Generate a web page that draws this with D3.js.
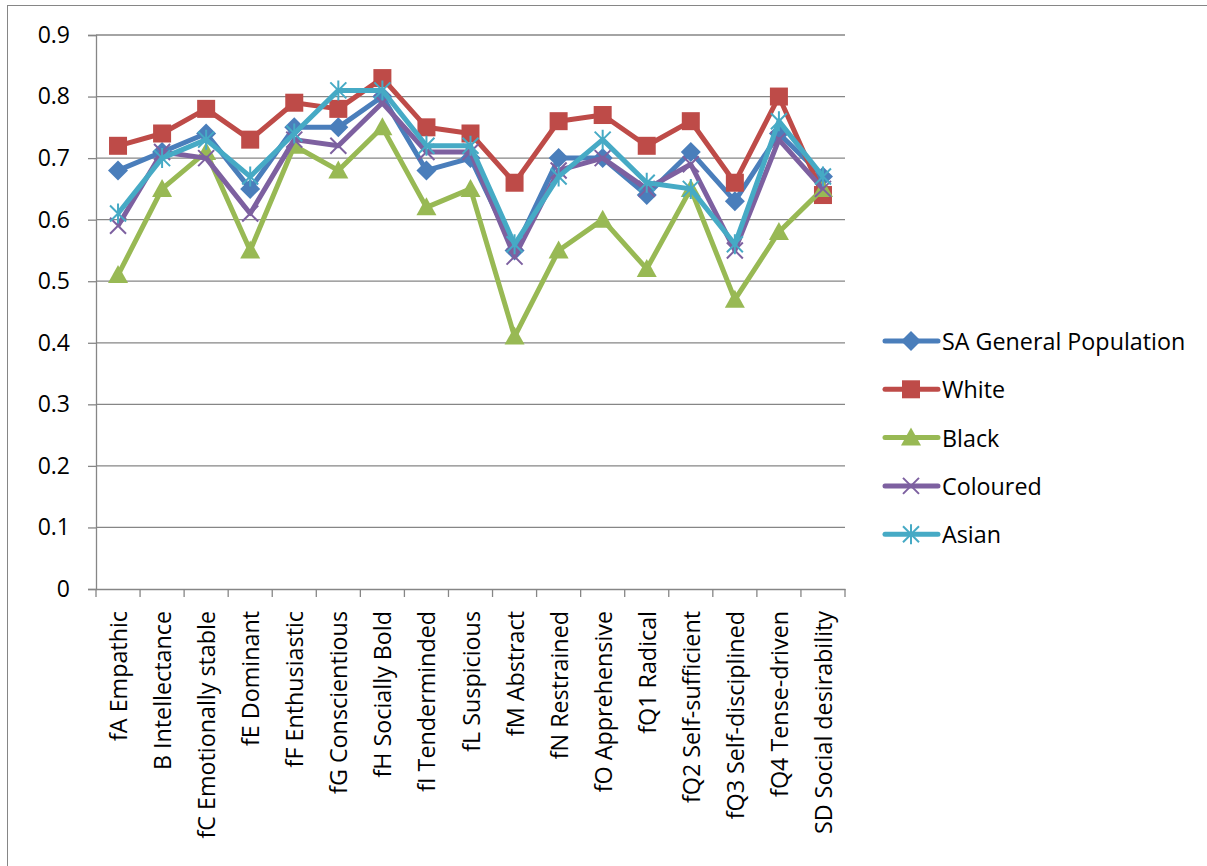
<!DOCTYPE html>
<html>
<head>
<meta charset="utf-8">
<script src="https://cdn.jsdelivr.net/npm/d3@7"></script>
<style>
  body { margin: 0; background: #fff; }
  text { font-family: "Open Sans", "Noto Sans", sans-serif; fill: #000; }
</style>
</head>
<body>
<svg id="chart" width="1207" height="866"></svg>
<script>
const categories = ["fA Empathic", "B Intellectance", "fC Emotionally stable", "fE Dominant",
  "fF Enthusiastic", "fG Conscientious", "fH Socially Bold", "fI Tenderminded", "fL Suspicious",
  "fM Abstract", "fN Restrained", "fO Apprehensive", "fQ1 Radical", "fQ2 Self-sufficient",
  "fQ3 Self-disciplined", "fQ4 Tense-driven", "SD Social desirability"];

const saGeneral = [0.68, 0.71, 0.74, 0.65, 0.75, 0.75, 0.80, 0.68, 0.70, 0.55, 0.70, 0.70, 0.64, 0.71, 0.63, 0.74, 0.67];
const white     = [0.72, 0.74, 0.78, 0.73, 0.79, 0.78, 0.83, 0.75, 0.74, 0.66, 0.76, 0.77, 0.72, 0.76, 0.66, 0.80, 0.64];
const black     = [0.51, 0.65, 0.71, 0.55, 0.72, 0.68, 0.75, 0.62, 0.65, 0.41, 0.55, 0.60, 0.52, 0.65, 0.47, 0.58, 0.65];
const coloured  = [0.59, 0.71, 0.70, 0.61, 0.73, 0.72, 0.79, 0.71, 0.71, 0.54, 0.68, 0.70, 0.65, 0.69, 0.55, 0.73, 0.65];
const asian     = [0.61, 0.70, 0.73, 0.67, 0.74, 0.81, 0.81, 0.72, 0.72, 0.56, 0.67, 0.73, 0.66, 0.65, 0.56, 0.76, 0.67];

const yTicks = [0, 0.1, 0.2, 0.3, 0.4, 0.5, 0.6, 0.7, 0.8, 0.9];

const series = [
  { name: "SA General Population", values: saGeneral, color: "#4A7EBB", marker: "diamond" },
  { name: "White", values: white, color: "#BE4B48", marker: "square" },
  { name: "Black", values: black, color: "#98B954", marker: "triangle" },
  { name: "Coloured", values: coloured, color: "#7D60A0", marker: "x" },
  { name: "Asian", values: asian, color: "#46AAC5", marker: "star" }
];

const svg = d3.select("#chart");

// outer chart frame
svg.append("rect")
  .attr("x", 7.5).attr("y", 5.5)
  .attr("width", 1210).attr("height", 880)
  .attr("fill", "none").attr("stroke", "#868686").attr("stroke-width", 1);

const plot = { left: 96, right: 845, top: 35, bottom: 589 };

const x = d3.scaleBand().domain(categories).range([plot.left, plot.right]);
const y = d3.scaleLinear().domain([0, 0.9]).range([plot.bottom, plot.top]);

// gridlines
svg.append("g")
  .selectAll("line")
  .data(yTicks.slice(1))
  .join("line")
  .attr("x1", plot.left).attr("x2", plot.right)
  .attr("y1", (d) => y(d)).attr("y2", (d) => y(d))
  .attr("stroke", "#868686").attr("stroke-width", 1.3);

// y axis
const yAxis = svg.append("g")
  .attr("transform", `translate(${plot.left},0)`)
  .call(d3.axisLeft(y).tickValues(yTicks).tickSize(8).tickPadding(18).tickFormat((d) => d === 0 ? "0" : d3.format(".1f")(d)));
yAxis.select(".domain").attr("stroke", "#868686").attr("stroke-width", 1.3);
yAxis.selectAll(".tick line").attr("stroke", "#868686").attr("stroke-width", 1.3);
yAxis.selectAll(".tick text").attr("font-size", 23).attr("fill", "#000");

// x axis
const xAxis = svg.append("g")
  .attr("transform", `translate(0,${plot.bottom})`)
  .call(d3.axisBottom(x).tickSize(0).tickPadding(0));
xAxis.select(".domain").attr("stroke", "#868686").attr("stroke-width", 1.3);
xAxis.selectAll(".tick text")
  .attr("font-size", 23.3)
  .attr("fill", "#000")
  .attr("text-anchor", "end")
  .attr("dy", null)
  .attr("transform", "translate(0,22) rotate(-90)")
  .attr("dominant-baseline", "central");

// x tick marks at band boundaries
svg.append("g")
  .selectAll("line")
  .data(categories.map((c) => x(c)).concat([plot.right]))
  .join("line")
  .attr("x1", (d) => d).attr("x2", (d) => d)
  .attr("y1", plot.bottom).attr("y2", plot.bottom + 8)
  .attr("stroke", "#868686").attr("stroke-width", 1.3);

const cx = (i) => x(categories[i]) + x.bandwidth() / 2;

function drawMarker(g, type, color) {
  if (type === "diamond") {
    g.append("path").attr("d", "M0,-10L10,0L0,10L-10,0Z").attr("fill", color);
  } else if (type === "square") {
    g.append("rect").attr("x", -9).attr("y", -9).attr("width", 18).attr("height", 18).attr("fill", color);
  } else if (type === "triangle") {
    g.append("path").attr("d", "M0,-10L10,8L-10,8Z").attr("fill", color);
  } else if (type === "x") {
    g.append("path").attr("d", "M-8,-8L8,8M-8,8L8,-8").attr("stroke", color).attr("stroke-width", 2);
  } else if (type === "star") {
    g.append("path").attr("d", "M-8,-8L8,8M-8,8L8,-8M0,-10L0,10").attr("stroke", color).attr("stroke-width", 2);
  }
}

const line = d3.line().x((d, i) => cx(i)).y((d) => y(d));

series.forEach((s) => {
  const g = svg.append("g");
  g.append("path")
    .datum(s.values)
    .attr("d", line)
    .attr("fill", "none")
    .attr("stroke", s.color)
    .attr("stroke-width", 5)
    .attr("stroke-linejoin", "round");
  s.values.forEach((v, i) => {
    const m = g.append("g").attr("transform", `translate(${cx(i)},${y(v)})`);
    drawMarker(m, s.marker, s.color);
  });
});

// legend
const legend = svg.append("g").attr("transform", "translate(883,341)");
series.forEach((s, i) => {
  const row = legend.append("g").attr("transform", `translate(0,${i * 48.3})`);
  row.append("line")
    .attr("x1", 2).attr("x2", 55).attr("y1", 0).attr("y2", 0)
    .attr("stroke", s.color).attr("stroke-width", 5).attr("stroke-linecap", "round");
  const m = row.append("g").attr("transform", "translate(28,0)");
  drawMarker(m, s.marker, s.color);
  row.append("text")
    .attr("x", 59).attr("y", 0)
    .attr("dominant-baseline", "central")
    .attr("font-size", 23.3)
    .text(s.name);
});
</script>
</body>
</html>
